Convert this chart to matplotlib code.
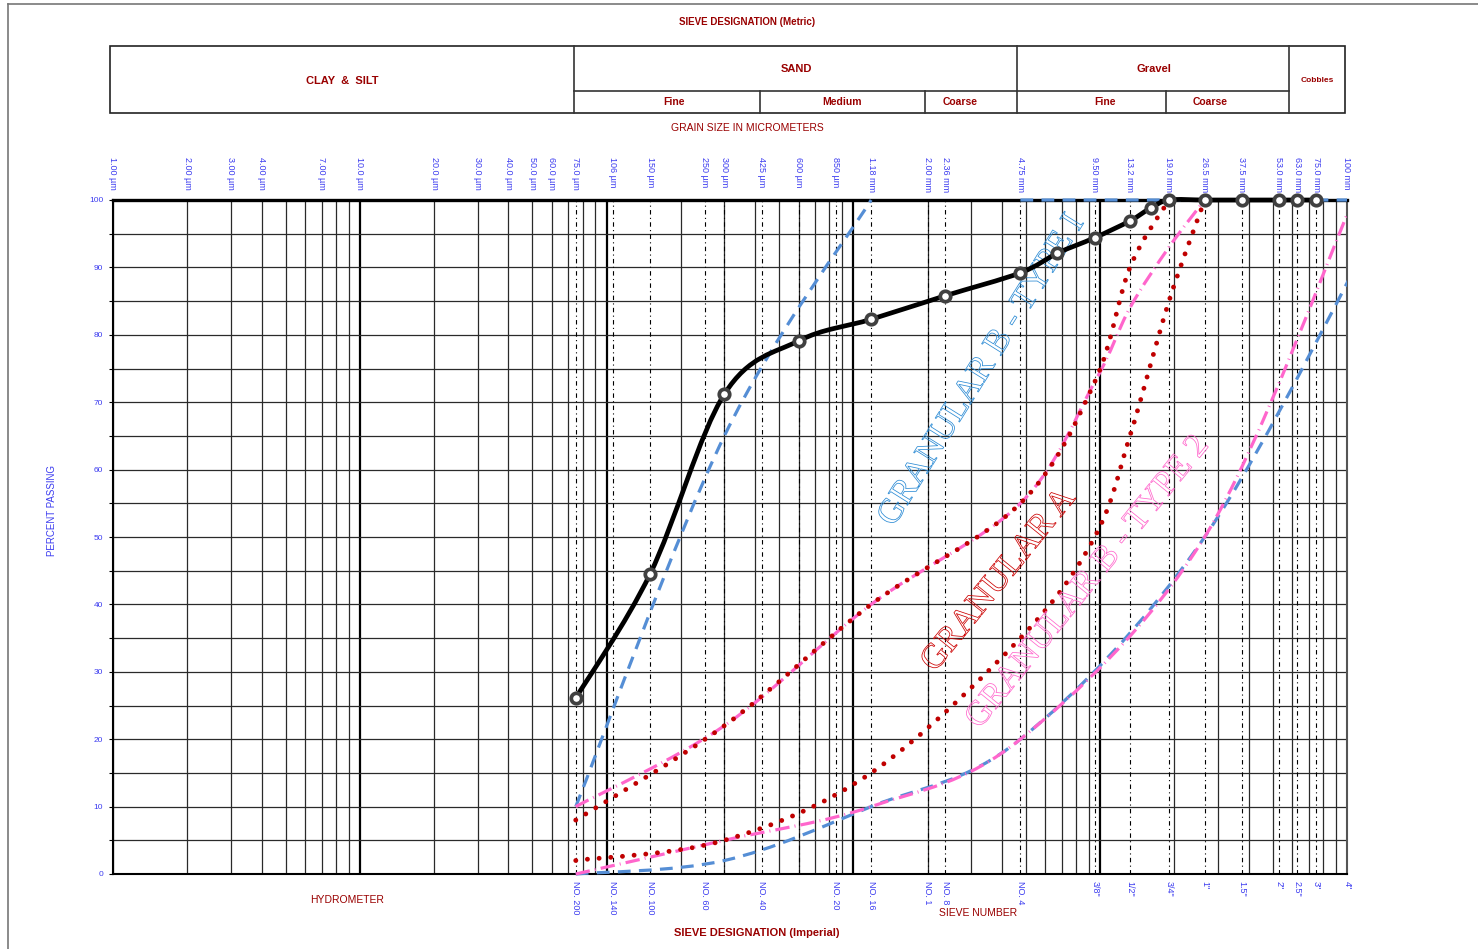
import numpy as np
import matplotlib.pyplot as plt
import matplotlib.patheffects as pe
from matplotlib.path import Path
from matplotlib.patches import PathPatch, Rectangle
from matplotlib.lines import Line2D
from matplotlib.ticker import NullLocator

plt.rcParams['font.family'] = ['Liberation Sans', 'DejaVu Sans']

W, H = 1478, 949

# sieve openings (mm)
sieve_mm = [0.075, 0.106, 0.150, 0.250, 0.300, 0.425, 0.600, 0.850, 1.18, 2.00,
            2.36, 4.75, 9.50, 13.2, 19.0, 26.5, 37.5, 53.0, 63.0, 75.0, 100.0]

metric_mm = [0.001, 0.002, 0.003, 0.004, 0.007, 0.010, 0.020, 0.030, 0.040,
             0.050, 0.060] + sieve_mm
metric_labels = ['1.00 µm', '2.00 µm', '3.00 µm', '4.00 µm', '7.00 µm', '10.0 µm',
                 '20.0 µm', '30.0 µm', '40.0 µm', '50.0 µm', '60.0 µm', '75.0 µm',
                 '106 µm', '150 µm', '250 µm', '300 µm', '425 µm', '600 µm',
                 '850 µm', '1.18 mm', '2.00 mm', '2.36 mm', '4.75 mm', '9.50 mm',
                 '13.2 mm', '19.0 mm', '26.5 mm', '37.5 mm', '53.0 mm', '63.0 mm',
                 '75.0 mm', '100 mm']

imperial_mm = [0.075, 0.106, 0.150, 0.250, 0.425, 0.850, 1.18, 2.00, 2.36, 4.75,
               9.50, 13.2, 19.0, 26.5, 37.5, 53.0, 63.0, 75.0, 100.0]
imperial_labels = ['NO. 200', 'NO. 140', 'NO. 100', 'NO. 60', 'NO. 40', 'NO. 20',
                   'NO. 16', 'NO. 1', 'NO. 8', 'NO. 4', '3/8"', '1/2"', '3/4"',
                   '1"', '1.5"', '2"', '2.5"', '3"', '4"']

# sample gradation
sample_mm = [0.075, 0.150, 0.300, 0.600, 1.18, 2.36, 4.75, 6.7, 9.50, 13.2, 16.0,
             19.0, 26.5, 37.5, 53.0, 63.0, 75.0]
sample_pass = [26.1, 44.5, 71.2, 79.1, 82.3, 85.8, 89.2, 92.1, 94.4, 96.9, 98.8,
               100, 100, 100, 100, 100, 100]

# Granular A envelope
gA_up_mm = [0.075, 0.300, 1.18, 4.75, 9.50, 13.2, 19.0]
gA_up = [8, 22, 40, 55, 73, 90, 100]
gA_lo_mm = [0.075, 0.300, 1.18, 4.75, 9.50, 13.2, 19.0, 26.5]
gA_lo = [2, 5, 15, 35, 50, 65, 85, 100]

# Granular B Type I envelope
gB1_up_mm = [0.075, 0.300, 1.18]
gB1_up = [10, 65, 100]
gB1_top_mm = [4.75, 150.0]
gB1_top = [100, 100]
gB1_lo_mm = [0.075, 0.300, 1.18, 4.75, 26.5, 150.0]
gB1_lo = [0, 2, 10, 20, 50, 100]

# Granular B Type II envelope
gB2_up_mm = [0.075, 0.300, 1.18, 4.75, 9.50, 13.2, 19.0, 26.5]
gB2_up = [10, 22, 40, 55, 73, 84, 93, 100]
gB2_lo_mm = [0.075, 0.300, 1.18, 4.75, 26.5, 106.0]
gB2_lo = [0, 5, 10, 20, 50, 100]

DARKRED = '#990000'
TICKBLUE = '#3c3cf0'
BLUE = '#558ed5'
PINK = '#ff66cc'
RED = '#c00000'


def fx(px):
    return px / W


def fy(py):
    return 1 - py / H


def smooth_path(xs, ys):
    # Catmull-Rom through the points in (log x, y), as cubic Bezier segments
    lx = np.log10(xs)
    y = np.asarray(ys, float)
    px = np.concatenate([[lx[0]], lx, [lx[-1]]])
    py = np.concatenate([[y[0]], y, [y[-1]]])
    verts = [(xs[0], ys[0])]
    codes = [Path.MOVETO]
    for i in range(1, len(px) - 2):
        c1 = (px[i] + (px[i + 1] - px[i - 1]) / 6, py[i] + (py[i + 1] - py[i - 1]) / 6)
        c2 = (px[i + 1] - (px[i + 2] - px[i]) / 6, py[i + 1] - (py[i + 2] - py[i]) / 6)
        verts += [(10 ** c1[0], c1[1]), (10 ** c2[0], c2[1]), (10 ** px[i + 1], py[i + 1])]
        codes += [Path.CURVE4] * 3
    return Path(verts, codes)


fig = plt.figure(figsize=(W / 100, H / 100), dpi=100)
ax = fig.add_axes([fx(113), fy(874), 1234 / W, 674 / H])
ax.set_xscale('log')
ax.set_xlim(0.001, 100)
ax.set_ylim(0, 100)
ax.xaxis.set_major_locator(NullLocator())
ax.xaxis.set_minor_locator(NullLocator())
ax.set_yticks(range(0, 101, 10))
ax.set_yticks(range(5, 100, 10), minor=True)
ax.tick_params(axis='y', which='both', length=3, width=0.8, labelsize=6,
               labelcolor=TICKBLUE, pad=4)

# log grid
for dec in [0.001, 0.01, 0.1, 1.0, 10.0]:
    for k in range(1, 10):
        xv = k * dec
        if k == 1:
            ax.axvline(xv, color='black', lw=1.6, zorder=1)
        else:
            ax.axvline(xv, color='#2a2a2a', lw=0.9, zorder=1)
for yv in range(5, 100, 5):
    ax.axhline(yv, color='#2a2a2a', lw=0.9, zorder=1)

# sieve lines
for s in sieve_mm:
    ax.axvline(s, color='black', lw=0.8, linestyle=(0, (4, 3, 1, 3)), zorder=1.5)

for side in ['left', 'bottom', 'right']:
    ax.spines[side].set_linewidth(1.5)
ax.spines['right'].set_color('#555555')
ax.spines['top'].set_linewidth(2.4)

clip = Rectangle((0, -0.03), 1, 1.06, transform=ax.transAxes)


def add_curve(xs, ys, color, lw, ls, z, cap='round'):
    patch = PathPatch(smooth_path(xs, ys), fill=False, edgecolor=color, lw=lw,
                      linestyle=ls, capstyle=cap, joinstyle='round',
                      transform=ax.transData, zorder=z)
    ax.add_patch(patch)
    patch.set_clip_path(clip)
    return patch


dotted = (0, (0.01, 2.4))
dashed = (0, (4, 2.6))
dashdot = (0, (4.5, 1.6, 0.3, 1.6))

add_curve(gB1_lo_mm, gB1_lo, BLUE, 2.3, dashed, 3, cap='butt')
add_curve(gB1_up_mm, gB1_up, BLUE, 2.3, dashed, 3, cap='butt')
add_curve(gB1_top_mm, gB1_top, BLUE, 2.3, dashed, 3, cap='butt')
add_curve(gB2_lo_mm, gB2_lo, PINK, 2.3, dashdot, 3.2, cap='butt')
add_curve(gB2_up_mm, gB2_up, PINK, 2.3, dashdot, 3.2, cap='butt')
add_curve(gA_lo_mm, gA_lo, RED, 3.5, dotted, 3.4)
add_curve(gA_up_mm, gA_up, RED, 3.5, dotted, 3.4)
add_curve(sample_mm, sample_pass, 'black', 3.4, '-', 5)
ax.plot(sample_mm, sample_pass, 'o', ms=7.5, mfc='white', mec='#404040', mew=2.7,
        clip_on=False, zorder=6)

# outlined envelope names
def outline_text(px, py, s, color, angle):
    ax.text((px - 113) / 1234, (874 - py) / 674, s, transform=ax.transAxes,
            rotation=angle, rotation_mode='anchor', ha='center', va='center',
            fontsize=25, family='Liberation Serif', color='none', zorder=4,
            path_effects=[pe.Stroke(linewidth=0.55, foreground=color)])


outline_text(982, 370, 'GRANULAR B - TYPE I', '#2a8ad4', 58)
outline_text(999, 580, 'GRANULAR A', '#cc0000', 51)
outline_text(1088, 582, 'GRANULAR B - TYPE 2', PINK, 51)

# metric labels above, imperial below
for xv, lab in zip(metric_mm, metric_labels):
    ax.text(xv, 1.0638, lab, transform=ax.get_xaxis_transform(), rotation=270,
            ha='center', va='top', fontsize=6.5, color=TICKBLUE)
for xv, lab in zip(imperial_mm, imperial_labels):
    ax.text(xv, -0.010, lab, transform=ax.get_xaxis_transform(), rotation=270,
            ha='center', va='top', fontsize=6.5, color=TICKBLUE)

# page frame
fig.add_artist(Line2D([fx(8), fx(8)], [fy(4), 0], color='#777777', lw=1.2))
fig.add_artist(Line2D([fx(8), 1], [fy(4), fy(4)], color='#777777', lw=1.2))

# soil classification header
hdr = dict(color='#333333', lw=1.2)
fig.add_artist(Rectangle((fx(110), fy(113)), (1345 - 110) / W, (113 - 46) / H,
                         fill=False, edgecolor='#222222', lw=1.2))
for xv in [574, 1017, 1289]:
    fig.add_artist(Line2D([fx(xv), fx(xv)], [fy(46), fy(113)], **hdr))
fig.add_artist(Line2D([fx(574), fx(1289)], [fy(91), fy(91)], **hdr))
for xv in [760, 925, 1166]:
    fig.add_artist(Line2D([fx(xv), fx(xv)], [fy(91), fy(113)], **hdr))

hb = dict(color=DARKRED, fontweight='bold', ha='center', va='center')
fig.text(fx(342), fy(81), 'CLAY  &  SILT', fontsize=8, **hb)
fig.text(fx(796), fy(69), 'SAND', fontsize=8, **hb)
fig.text(fx(1154), fy(69), 'Gravel', fontsize=8, **hb)
fig.text(fx(1317), fy(81), 'Cobbles', fontsize=6, **hb)
for xv, lab in [(674, 'Fine'), (842, 'Medium'), (960, 'Coarse'),
                (1105, 'Fine'), (1210, 'Coarse')]:
    fig.text(fx(xv), fy(102), lab, fontsize=7.5, **hb)

fig.text(fx(747), fy(22), 'SIEVE DESIGNATION (Metric)', fontsize=7, **hb)
fig.text(fx(747), fy(128), 'GRAIN SIZE IN MICROMETERS', fontsize=7.5,
         color=DARKRED, ha='center', va='center')
fig.text(fx(52), fy(510), 'PERCENT PASSING', fontsize=7, color=TICKBLUE,
         rotation=90, ha='center', va='center')
fig.text(fx(347), fy(900), 'HYDROMETER', fontsize=7.5, color=DARKRED,
         ha='center', va='center')
fig.text(fx(978), fy(913), 'SIEVE NUMBER', fontsize=7.5, color=DARKRED,
         ha='center', va='center')
fig.text(fx(757), fy(933), 'SIEVE DESIGNATION (Imperial)', fontsize=8, **hb)

fig.savefig('out.png', dpi=100, facecolor='white')
